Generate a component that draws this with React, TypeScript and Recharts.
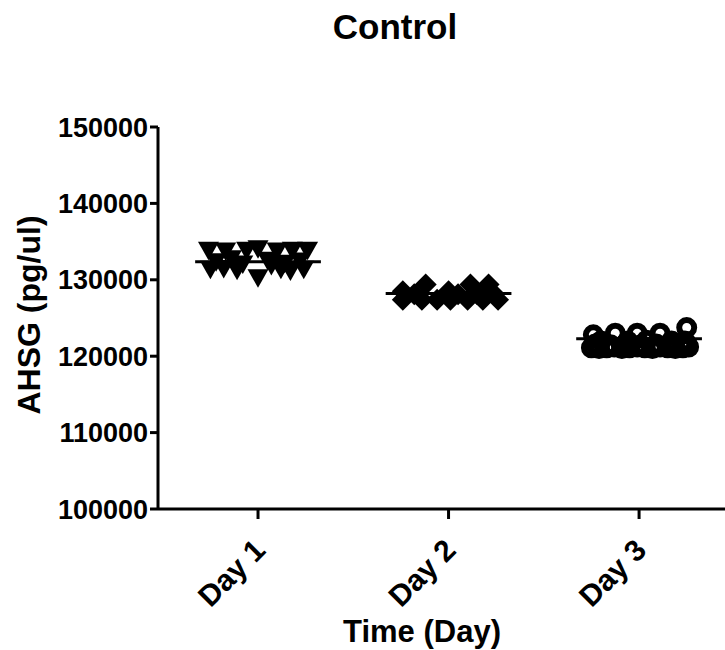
import React from "react";
import {
  ScatterChart,
  Scatter,
  XAxis,
  YAxis,
  ReferenceLine,
  Customized,
} from "recharts";

// ---- data ----
const days = [1, 2, 3];
const dayLabels = ["Day 1", "Day 2", "Day 3"];
const yTicks = [100000, 110000, 120000, 130000, 140000, 150000];
const means = [132350, 128200, 122300];

// Day 1 (inverted triangles): horizontal jitter (days) and values
const day1Jitter = [-0.26, -0.17, -0.06, 0.0, 0.1, 0.18, 0.26, -0.22, -0.08, 0.05, 0.14, 0.22, -0.25, -0.18, -0.11, 0.0, 0.12, 0.17, 0.24, -0.14, 0.07];
const day1Values = [133800, 133700, 133800, 134000, 133700, 133800, 133800, 132300, 132000, 132500, 132100, 132400, 131300, 131400, 131200, 130200, 131300, 131100, 131300, 132700, 131800];

// Day 2 (diamonds)
const day2Jitter = [-0.12, 0.115, 0.21, -0.24, 0.0, -0.18, 0.05, 0.15, 0.24, -0.24, -0.14, -0.06, 0.01, 0.1, 0.18, 0.26];
const day2Values = [129400, 129400, 129400, 128500, 128500, 128100, 128100, 128100, 128100, 127400, 127400, 127400, 127400, 127400, 127400, 127400];

// Day 3 (open circles)
const day3Jitter = [-0.24, -0.2, -0.125, -0.06, -0.01, 0.04, 0.11, 0.17, 0.24, -0.23, -0.15, -0.07, 0.01, 0.09, 0.17, 0.25, -0.25, -0.21, -0.17, -0.13, -0.09, -0.05, -0.01, 0.03, 0.07, 0.11, 0.15, 0.19, 0.23, 0.26, 0.25];
const day3Values = [122800, 122000, 123000, 122000, 123000, 122100, 123000, 122000, 122000, 121600, 121500, 121600, 121500, 121600, 121500, 121600, 121100, 121000, 121100, 121200, 121000, 121100, 121200, 121100, 121000, 121200, 121100, 121000, 121100, 121200, 123750];

const toPoints = (day: number, jitter: number[], values: number[]) =>
  values.map((v, i) => ({ x: day + jitter[i], y: v }));

const day1Data = toPoints(days[0], day1Jitter, day1Values);
const day2Data = toPoints(days[1], day2Jitter, day2Values);
const day3Data = toPoints(days[2], day3Jitter, day3Values);

const FONT = "'Liberation Sans', Arial, Helvetica, sans-serif";

const InvTriangle = (props: any) => {
  const { cx, cy } = props;
  return (
    <path
      d={`M${cx - 10.5},${cy - 9} L${cx + 10.5},${cy - 9} L${cx},${cy + 9.5} Z`}
      fill="#000"
    />
  );
};

const Diamond = (props: any) => {
  const { cx, cy } = props;
  return (
    <path
      d={`M${cx},${cy - 11} L${cx + 11},${cy} L${cx},${cy + 11} L${cx - 11},${cy} Z`}
      fill="#000"
    />
  );
};

const OpenCircle = (props: any) => {
  const { cx, cy } = props;
  return <circle cx={cx} cy={cy} r={7.5} fill="none" stroke="#000" strokeWidth={6} />;
};

const XTick = (props: any) => {
  const { x, y, payload } = props;
  const idx = days.indexOf(payload.value);
  const ax = x + 9;
  const ay = y + 31;
  return (
    <text
      x={ax}
      y={ay}
      textAnchor="end"
      transform={`rotate(-45, ${ax}, ${ay})`}
      fontFamily={FONT}
      fontWeight="bold"
      fontSize={30}
      fill="#000"
    >
      {idx >= 0 ? dayLabels[idx] : ""}
    </text>
  );
};

const Texts = () => (
  <g>
    <text x={395} y={39} textAnchor="middle" fontFamily={FONT} fontWeight="bold" fontSize={35} fill="#000">
      Control
    </text>
    <text x={422} y={642} textAnchor="middle" fontFamily={FONT} fontWeight="bold" fontSize={31} fill="#000">
      Time (Day)
    </text>
    <text
      x={40}
      y={315}
      textAnchor="middle"
      transform="rotate(-90, 40, 315)"
      fontFamily={FONT}
      fontWeight="bold"
      fontSize={32}
      fill="#000"
    >
      AHSG (pg/ul)
    </text>
  </g>
);

export default function App() {
  return (
    <div style={{ position: "absolute", left: 0, top: 0, width: 725, height: 650, background: "#fff" }}>
      <ScatterChart
        width={725}
        height={650}
        margin={{ top: 127, right: 0, bottom: 0, left: 0 }}
      >
        <XAxis
          type="number"
          dataKey="x"
          domain={[0.475, 3.451]}
          allowDataOverflow
          ticks={days}
          interval={0}
          height={141}
          tick={<XTick />}
          tickSize={10}
          axisLine={{ stroke: "#000", strokeWidth: 3 }}
          tickLine={{ stroke: "#000", strokeWidth: 3 }}
        />
        <YAxis
          type="number"
          dataKey="y"
          domain={[100000, 150000]}
          allowDataOverflow
          ticks={yTicks}
          interval={0}
          width={158}
          tickSize={8}
          tickMargin={2}
          tick={{ fontFamily: FONT, fontWeight: "bold", fontSize: 27, fill: "#000" }}
          axisLine={{ stroke: "#000", strokeWidth: 3 }}
          tickLine={{ stroke: "#000", strokeWidth: 3 }}
        />
        <Scatter data={day1Data} shape={<InvTriangle />} isAnimationActive={false} />
        <Scatter data={day2Data} shape={<Diamond />} isAnimationActive={false} />
        <Scatter data={day3Data} shape={<OpenCircle />} isAnimationActive={false} />
        {days.map((d, i) => (
          <ReferenceLine
            key={d}
            segment={[
              { x: d - 0.33, y: means[i] },
              { x: d + 0.33, y: means[i] },
            ]}
            stroke="#000"
            strokeWidth={3}
            ifOverflow="visible"
          />
        ))}
        <Customized component={Texts} />
      </ScatterChart>
    </div>
  );
}
